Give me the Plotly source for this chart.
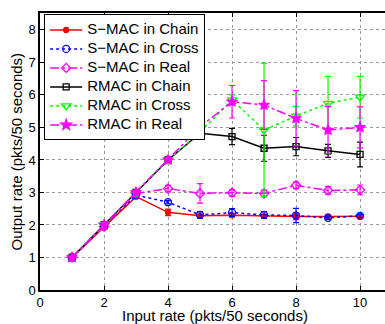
import plotly.graph_objects as go

x = [1, 2, 3, 4, 5, 6, 7, 8, 9, 10]

smac_chain = [1.0, 1.93, 2.87, 2.39, 2.28, 2.3, 2.27, 2.26, 2.26, 2.27]
smac_chain_err = [0.02, 0.03, 0.05, 0.1, 0.05, 0.05, 0.05, 0.1, 0.05, 0.07]

smac_cross = [1.0, 1.95, 2.92, 2.7, 2.31, 2.38, 2.31, 2.29, 2.22, 2.28]
smac_cross_err = [0.02, 0.03, 0.05, 0.05, 0.1, 0.12, 0.1, 0.22, 0.05, 0.05]

smac_real = [1.0, 1.95, 2.97, 3.12, 2.97, 2.99, 2.97, 3.22, 3.06, 3.08]
smac_real_err = [0.02, 0.03, 0.05, 0.1, 0.3, 0.1, 0.1, 0.1, 0.12, 0.15]

rmac_chain = [1.0, 2.0, 3.0, 4.0, 4.82, 4.72, 4.36, 4.41, 4.28, 4.17]
rmac_chain_err = [0.02, 0.03, 0.05, 0.05, 0.07, 0.25, 0.4, 0.28, 0.2, 0.38]

rmac_cross = [1.0, 2.0, 3.0, 4.0, 4.85, 5.85, 4.92, 5.35, 5.74, 5.93]
rmac_cross_err = [0.02, 0.03, 0.05, 0.05, 0.1, 0.15, 2.05, 0.3, 0.83, 0.64]

rmac_real = [1.0, 2.0, 3.0, 4.0, 5.02, 5.79, 5.69, 5.28, 4.92, 5.0]
rmac_real_err = [0.02, 0.03, 0.05, 0.05, 0.05, 0.5, 0.75, 0.85, 0.72, 0.63]

series_names = ["S\u2212MAC in Chain", "S\u2212MAC in Cross", "S\u2212MAC in Real",
                "RMAC in Chain", "RMAC in Cross", "RMAC in Real"]

x_title = "Input rate (pkts/50 seconds)"
y_title = "Output rate (pkts/50 seconds)"

styles = [
    ("#ff0000", "solid", "circle", 5),
    ("#0000ff", "dot", "circle-open", 7),
    ("#ff00ff", "dashdot", "diamond-open", 7),
    ("#000000", "solid", "square-open", 6),
    ("#00ff00", "dot", "triangle-down-open", 8),
    ("#ff00ff", "dashdot", "star", 8),
]
values = [smac_chain, smac_cross, smac_real, rmac_chain, rmac_cross, rmac_real]
errors = [smac_chain_err, smac_cross_err, smac_real_err, rmac_chain_err, rmac_cross_err, rmac_real_err]

fig = go.Figure()
for name, y, err, (color, dash, sym, size) in zip(series_names, values, errors, styles):
    fig.add_trace(go.Scatter(
        x=x, y=y,
        name='<span style="font-size:15px">' + name + '</span>',
        mode="lines+markers",
        line=dict(color=color, width=1.5, dash=dash),
        marker=dict(symbol=sym, size=size, color=color, line=dict(color=color, width=1.3)),
        error_y=dict(type="data", array=err, visible=True, color=color, thickness=1.2, width=3),
    ))

FAM = "Liberation Sans, Arial, sans-serif"
tickfont = dict(family=FAM, size=13, color="black")
titlefont = dict(family=FAM, size=15, color="black")

fig.update_layout(
    width=385, height=324,
    margin=dict(l=40, r=0, t=13, b=34),
    paper_bgcolor="white", plot_bgcolor="white",
    font=dict(family=FAM, size=15, color="black"),
    showlegend=True,
    legend=dict(
        x=0.012, y=0.995, xanchor="left", yanchor="top",
        bgcolor="white", bordercolor="black", borderwidth=1,
        font=dict(family=FAM, size=11, color="black"),
        tracegroupgap=0, itemwidth=32,
    ),
    xaxis=dict(
        range=[0, 10.78], tickvals=[0, 2, 4, 6, 8, 10],
        showline=True, linecolor="black", linewidth=1.5, mirror="ticks",
        ticks="inside", ticklen=4, tickcolor="black", ticklabelstandoff=0,
        showgrid=True, gridcolor="#999999", griddash="dot", gridwidth=1,
        zeroline=False, tickfont=tickfont, automargin=False,
    ),
    yaxis=dict(
        range=[0, 8.52], tickvals=[0, 1, 2, 3, 4, 5, 6, 7, 8],
        showline=True, linecolor="black", linewidth=1.5, mirror=False,
        ticks="inside", ticklen=4, tickcolor="black",
        showgrid=True, gridcolor="#999999", griddash="dot", gridwidth=1,
        zeroline=False, tickfont=tickfont, automargin=False,
    ),
    annotations=[
        dict(text=x_title, xref="paper", yref="paper", x=0.506, y=0,
             xanchor="center", yanchor="top", yshift=-16, borderpad=0,
             showarrow=False, font=titlefont),
        dict(text=y_title, xref="paper", yref="paper", x=0, y=0.5, textangle=-90,
             xanchor="center", yanchor="middle", xshift=-24, borderpad=0,
             showarrow=False, font=titlefont),
    ],
)

fig.write_html("out.html")
